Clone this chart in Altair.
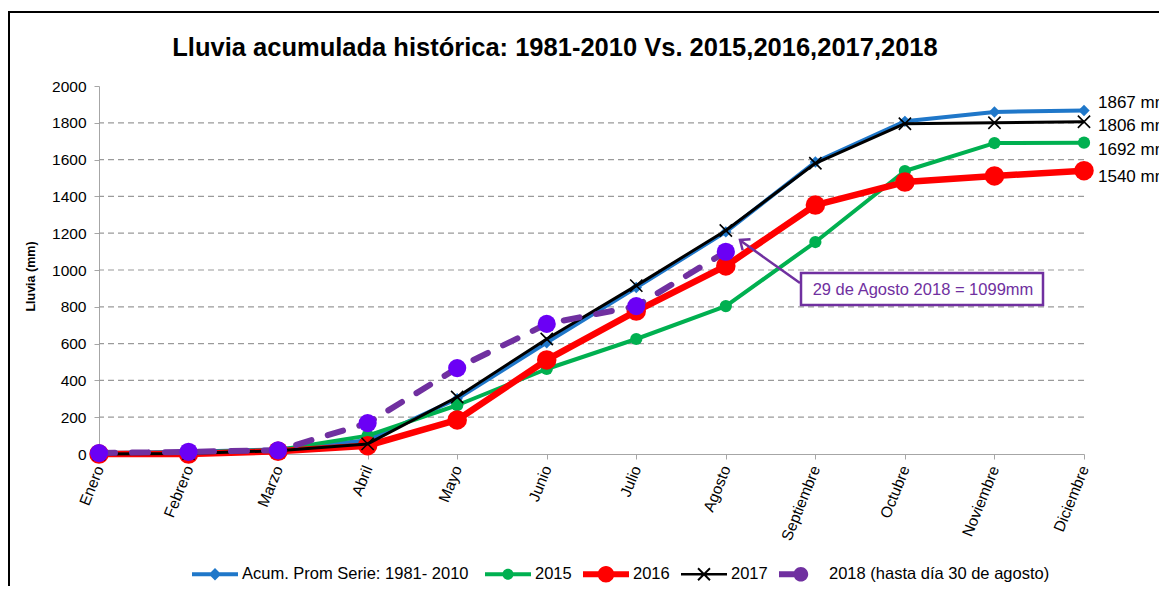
import altair as alt
import pandas as pd

# ---------------- data ----------------
months = ["Enero", "Febrero", "Marzo", "Abril", "Mayo", "Junio", "Julio",
          "Agosto", "Septiembre", "Octubre", "Noviembre", "Diciembre"]
prom = [6, 12, 25, 75, 300, 605, 905, 1207, 1587, 1808, 1859, 1867]
y2015 = [3, 8, 22, 100, 265, 462, 625, 804, 1152, 1538, 1690, 1692]
y2016 = [0, 0, 15, 45, 185, 511, 777, 1022, 1353, 1478, 1511, 1540]
y2017 = [0, 3, 18, 55, 310, 625, 915, 1215, 1580, 1795, 1800, 1806]
y2018 = [5, 12, 20, 168, 467, 707, 804, 1099]

series_keys = ["prom", "2015", "2016", "2017", "2018"]
series_labels = ["Acum. Prom Serie:  1981- 2010", "2015", "2016", "2017",
                 "2018 (hasta día 30 de agosto)"]
series_values = [prom, y2015, y2016, y2017, y2018]
end_label_keys = ["prom", "2017", "2015", "2016"]
grid_values = [200, 400, 600, 800, 1000, 1200, 1400, 1600, 1800]
y_ticks = [0, 200, 400, 600, 800, 1000, 1200, 1400, 1600, 1800, 2000]

title_text = "Lluvia acumulada histórica: 1981-2010 Vs. 2015,2016,2017,2018"
note_text = "29 de Agosto 2018 = 1099mm"

rows = []
for key, lab, vals in zip(series_keys, series_labels, series_values):
    for i, v in enumerate(vals):
        rows.append({"k": key, "serie": lab, "mes": months[i], "idx": i, "valor": v})
df = pd.DataFrame(rows)
grid_df = pd.DataFrame({"valor": grid_values})
end_df = pd.DataFrame({
    "k": end_label_keys,
    "mes": [months[-1]] * len(end_label_keys),
    "valor": [series_values[series_keys.index(k)][-1] for k in end_label_keys],
})
end_df["txt"] = end_df["valor"].astype(str) + " mm"
one = pd.DataFrame({"a": [0]})

# ---------------- styles ----------------
FONT = "Liberation Sans, Arial, sans-serif"
PURPLE = "#7030A0"
STYLE = {
    "prom": dict(color="#1F77C9", width=4, shape="diamond", size=130, filled=True, pcolor="#1F77C9"),
    "2015": dict(color="#00B050", width=4, shape="circle", size=150, filled=True, pcolor="#00B050"),
    "2016": dict(color="#FF0000", width=6.5, shape="circle", size=380, filled=True, pcolor="#FF0000"),
    "2017": dict(color="#000000", width=3, shape="M-1,-1L1,1M-1,1L1,-1", size=150, filled=False, pcolor="#000000"),
    "2018": dict(color=PURPLE, width=6, shape="circle", size=330, filled=True, pcolor="#6B00F5",
                 dash=[16, 17]),
}
LEGEND_PATHS = [
    "M-1,-0.087H1V0.087H-1Z M0,-0.27L0.27,0L0,0.27L-0.27,0Z",
    "M-1,-0.087H1V0.087H-1Z M-0.24,0A0.24,0.24 0 1,1 0.24,0A0.24,0.24 0 1,1 -0.24,0Z",
    "M-1,-0.13H1V0.13H-1Z M-0.36,0A0.36,0.36 0 1,1 0.36,0A0.36,0.36 0 1,1 -0.36,0Z",
    "M-1,-0.055H1V0.055H-1Z M-0.29,-0.23L-0.23,-0.29L0.29,0.23L0.23,0.29Z M-0.29,0.23L0.23,-0.29L0.29,-0.23L-0.23,0.29Z",
    "M-1,-0.13H0V0.13H-1Z M-0.37,0A0.32,0.32 0 1,1 0.27,0A0.32,0.32 0 1,1 -0.37,0Z",
]
LEGEND_COLORS = ["#1F77C9", "#00B050", "#FF0000", "#000000", PURPLE]
END_DY = {"prom": -7, "2017": 4, "2015": 7, "2016": 6}

x_axis = alt.Axis(labelAngle=292, labelAlign="right", labelBaseline="middle",
                  labelFontSize=15.5, labelPadding=7, tickSize=5, labelColor="black",
                  domainColor="#A6A6A6", tickColor="#A6A6A6", grid=False)
y_axis = alt.Axis(values=y_ticks, format="d", labelFontSize=15.5, labelPadding=8, tickSize=5,
                  labelColor="black", domainColor="#A6A6A6", tickColor="#A6A6A6",
                  grid=False, titleFontSize=12.5, titleFontWeight="bold",
                  titleColor="black", titleX=-69, titleY=190, titleBaseline="middle",
                  titleAlign="center")
X = alt.X("mes:N", scale=alt.Scale(type="point", domain=months, padding=0),
          axis=x_axis, title=None)
Y = alt.Y("valor:Q", scale=alt.Scale(domain=[0, 2000], nice=False), axis=y_axis,
          title="Lluvia (mm)")

layers = []
# frame
layers.append(alt.Chart(one).mark_rect(fillOpacity=0, stroke="black", strokeWidth=2).encode(
    x=alt.value(-90), x2=alt.value(1300), y=alt.value(-74), y2=alt.value(900)))
# title
layers.append(alt.Chart(one).mark_text(text=title_text, fontSize=25.5, fontWeight="bold",
                                       color="black", align="center", baseline="alphabetic").encode(
    x=alt.value(456), y=alt.value(-30)))
# grid
layers.append(alt.Chart(grid_df).mark_rule(color="#9A9A9A", strokeDash=[6, 4], strokeWidth=1.2)
              .encode(y=Y))

for key in series_keys:
    st = STYLE[key]
    base = alt.Chart(df).transform_filter(alt.datum.k == key)
    lk = dict(color=st["color"], strokeWidth=st["width"], strokeJoin="round")
    if "dash" in st:
        lk["strokeDash"] = st["dash"]
        lk["strokeCap"] = "round"
    layers.append(base.mark_line(**lk).encode(x=X, y=Y, order=alt.Order("idx:Q")))
    pk = dict(shape=st["shape"], size=st["size"], filled=st["filled"], color=st["pcolor"], opacity=1)
    if not st["filled"]:
        pk["strokeWidth"] = 1.6
    layers.append(base.mark_point(**pk).encode(x=X, y=Y))

# end labels
for key in end_label_keys:
    layers.append(alt.Chart(end_df).transform_filter(alt.datum.k == key)
                  .mark_text(align="left", baseline="middle", dx=14, dy=END_DY[key],
                             fontSize=17, color="black")
                  .encode(x=X, y=Y, text="txt:N"))

# annotation: arrow, box, text
layers.append(alt.Chart(one).mark_rule(color=PURPLE, strokeWidth=2.5).encode(
    x=alt.value(701), y=alt.value(197), x2=alt.value(642), y2=alt.value(155)))
layers.append(alt.Chart(one).mark_point(shape="M0.9,-0.75L0,0L0.9,0.75", filled=False,
                                        size=324, color=PURPLE, strokeWidth=2.5, opacity=1,
                                        angle=35.6).encode(
    x=alt.value(641), y=alt.value(154)))
layers.append(alt.Chart(one).mark_rect(fill="white", stroke=PURPLE, strokeWidth=2.5).encode(
    x=alt.value(702), x2=alt.value(944), y=alt.value(187), y2=alt.value(219)))
layers.append(alt.Chart(one).mark_text(text=note_text, fontSize=16.5, color=PURPLE,
                                       align="center", baseline="middle").encode(
    x=alt.value(824), y=alt.value(204)))

# legend (from an empty layer)
LEG = alt.Legend(orient="none", legendX=93, legendY=465, direction="horizontal", columns=5,
                 symbolSize=2116, labelFontSize=16.5, labelOffset=4, columnPadding=11,
                 padding=0, title=None, labelLimit=500, symbolStrokeWidth=0,
                 labelColor="black")
layers.append(alt.Chart(df).transform_filter("false").mark_point(filled=True, opacity=1).encode(
    color=alt.Color("serie:N", scale=alt.Scale(domain=series_labels, range=LEGEND_COLORS), legend=LEG),
    shape=alt.Shape("serie:N", scale=alt.Scale(domain=series_labels, range=LEGEND_PATHS), legend=LEG),
))

chart = alt.layer(*layers).properties(
    width=985, height=368,
    padding={"left": 91, "top": 78, "right": 75, "bottom": 132},
    autosize=alt.AutoSizeParams(type="none"),
).configure(font=FONT).configure_view(strokeWidth=0)

chart.save("out.html", embed_options={"renderer": "svg", "actions": False})
